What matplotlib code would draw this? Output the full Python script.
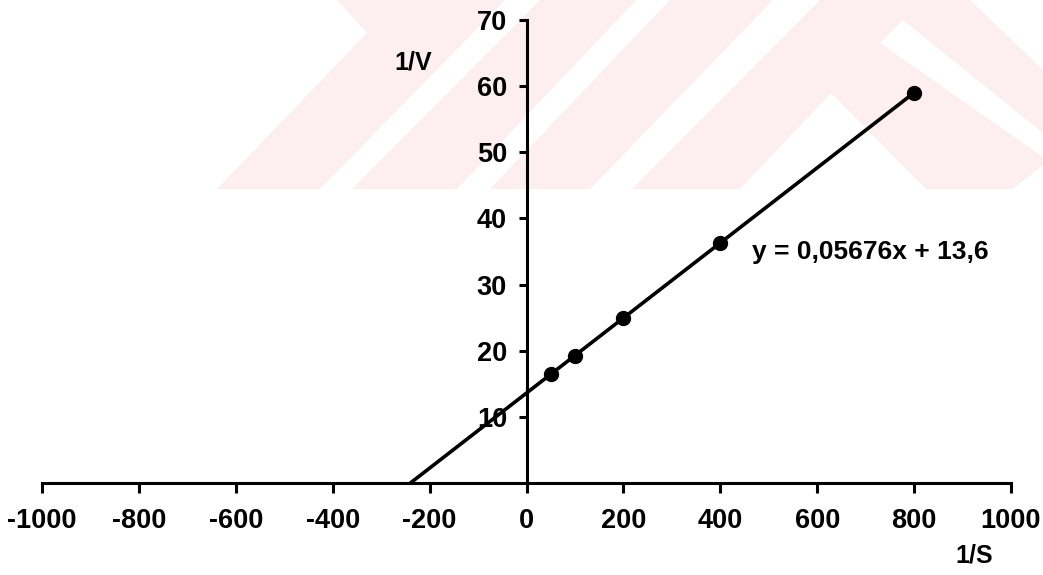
import numpy as np
import matplotlib
matplotlib.use("Agg")
import matplotlib.pyplot as plt
from matplotlib.patches import Polygon

plt.rcParams['font.family'] = ['Liberation Sans', 'DejaVu Sans']
plt.rcParams['font.weight'] = 'bold'

# Lineweaver-Burk verileri
inv_s = [50, 100, 200, 400, 800]
inv_v = [16.5, 19.25, 24.9, 36.25, 59.0]
slope = 0.05676
intercept = 13.6
x_ticks = [-1000, -800, -600, -400, -200, 0, 200, 400, 600, 800, 1000]
y_ticks = [10, 20, 30, 40, 50, 60, 70]

W, H = 1043, 575
fig = plt.figure(figsize=(W / 100, H / 100), dpi=100)

# arka plandaki soluk filigran (piksel koordinatlari)
pink = '#fdeef1'
wm_pink = [(217, 189), (367, 33), (337, 0), (1043, 0), (1043, 189)]
wm_white = [
    [(320, 189), (352, 189), (540, 0), (505, 0)],
    [(457, 189), (490, 189), (670, 0), (636, 0)],
    [(590, 189), (632, 189), (820, 0), (773, 0)],
    [(831, 93), (740, 189), (926, 189)],
    [(880, 43), (903, 20), (1043, 133), (1043, 157)],
    [(1013, 189), (1043, 189), (1043, 165)],
    [(970, 0), (1043, 0), (1043, 70)],
]


def to_fig(pts):
    return [(x / W, 1 - y / H) for x, y in pts]


fig.patches.append(Polygon(to_fig(wm_pink), closed=True, transform=fig.transFigure,
                           facecolor=pink, edgecolor='none', zorder=-2))
for poly in wm_white:
    fig.patches.append(Polygon(to_fig(poly), closed=True, transform=fig.transFigure,
                               facecolor='white', edgecolor='none', zorder=-1))

ax = fig.add_axes([42 / W, (H - 483) / H, 969 / W, 463 / H])
ax.set_zorder(2)
ax.patch.set_alpha(0)
ax.set_xlim(-1000, 1000)
ax.set_ylim(0, 70)

ax.spines['top'].set_visible(False)
ax.spines['right'].set_visible(False)
ax.spines['left'].set_position(('data', 0))
ax.spines['left'].set_linewidth(2.2)
ax.spines['bottom'].set_linewidth(2.2)

ax.set_xticks(x_ticks)
ax.set_yticks(y_ticks)
ax.set_xticklabels([str(t) for t in x_ticks])
ax.set_yticklabels([str(t) for t in y_ticks])
ax.tick_params(axis='x', direction='out', length=7, width=2.2, pad=11, labelsize=19.5)
ax.tick_params(axis='y', direction='out', length=6, width=2.2, pad=8, labelsize=19.5)

# regresyon dogrusu: x eksenini kestigi noktadan son noktaya
x_fit = np.linspace(-intercept / slope, max(inv_s), 50)
ax.plot(x_fit, slope * x_fit + intercept, color='black', lw=2.6, zorder=3)
ax.plot(inv_s, inv_v, 'o', color='black', markersize=10, zorder=4, clip_on=False)

ax.text(465, 34.9, 'y = 0,05676x + 13,6', fontsize=19, fontweight='bold',
        ha='left', va='center')
ax.text(-234, 63.6, '1/V', fontsize=18, ha='center', va='center')
ax.text(925, -11.0, '1/S', fontsize=18, ha='center', va='center', clip_on=False)

fig.savefig('out.png', dpi=100)
